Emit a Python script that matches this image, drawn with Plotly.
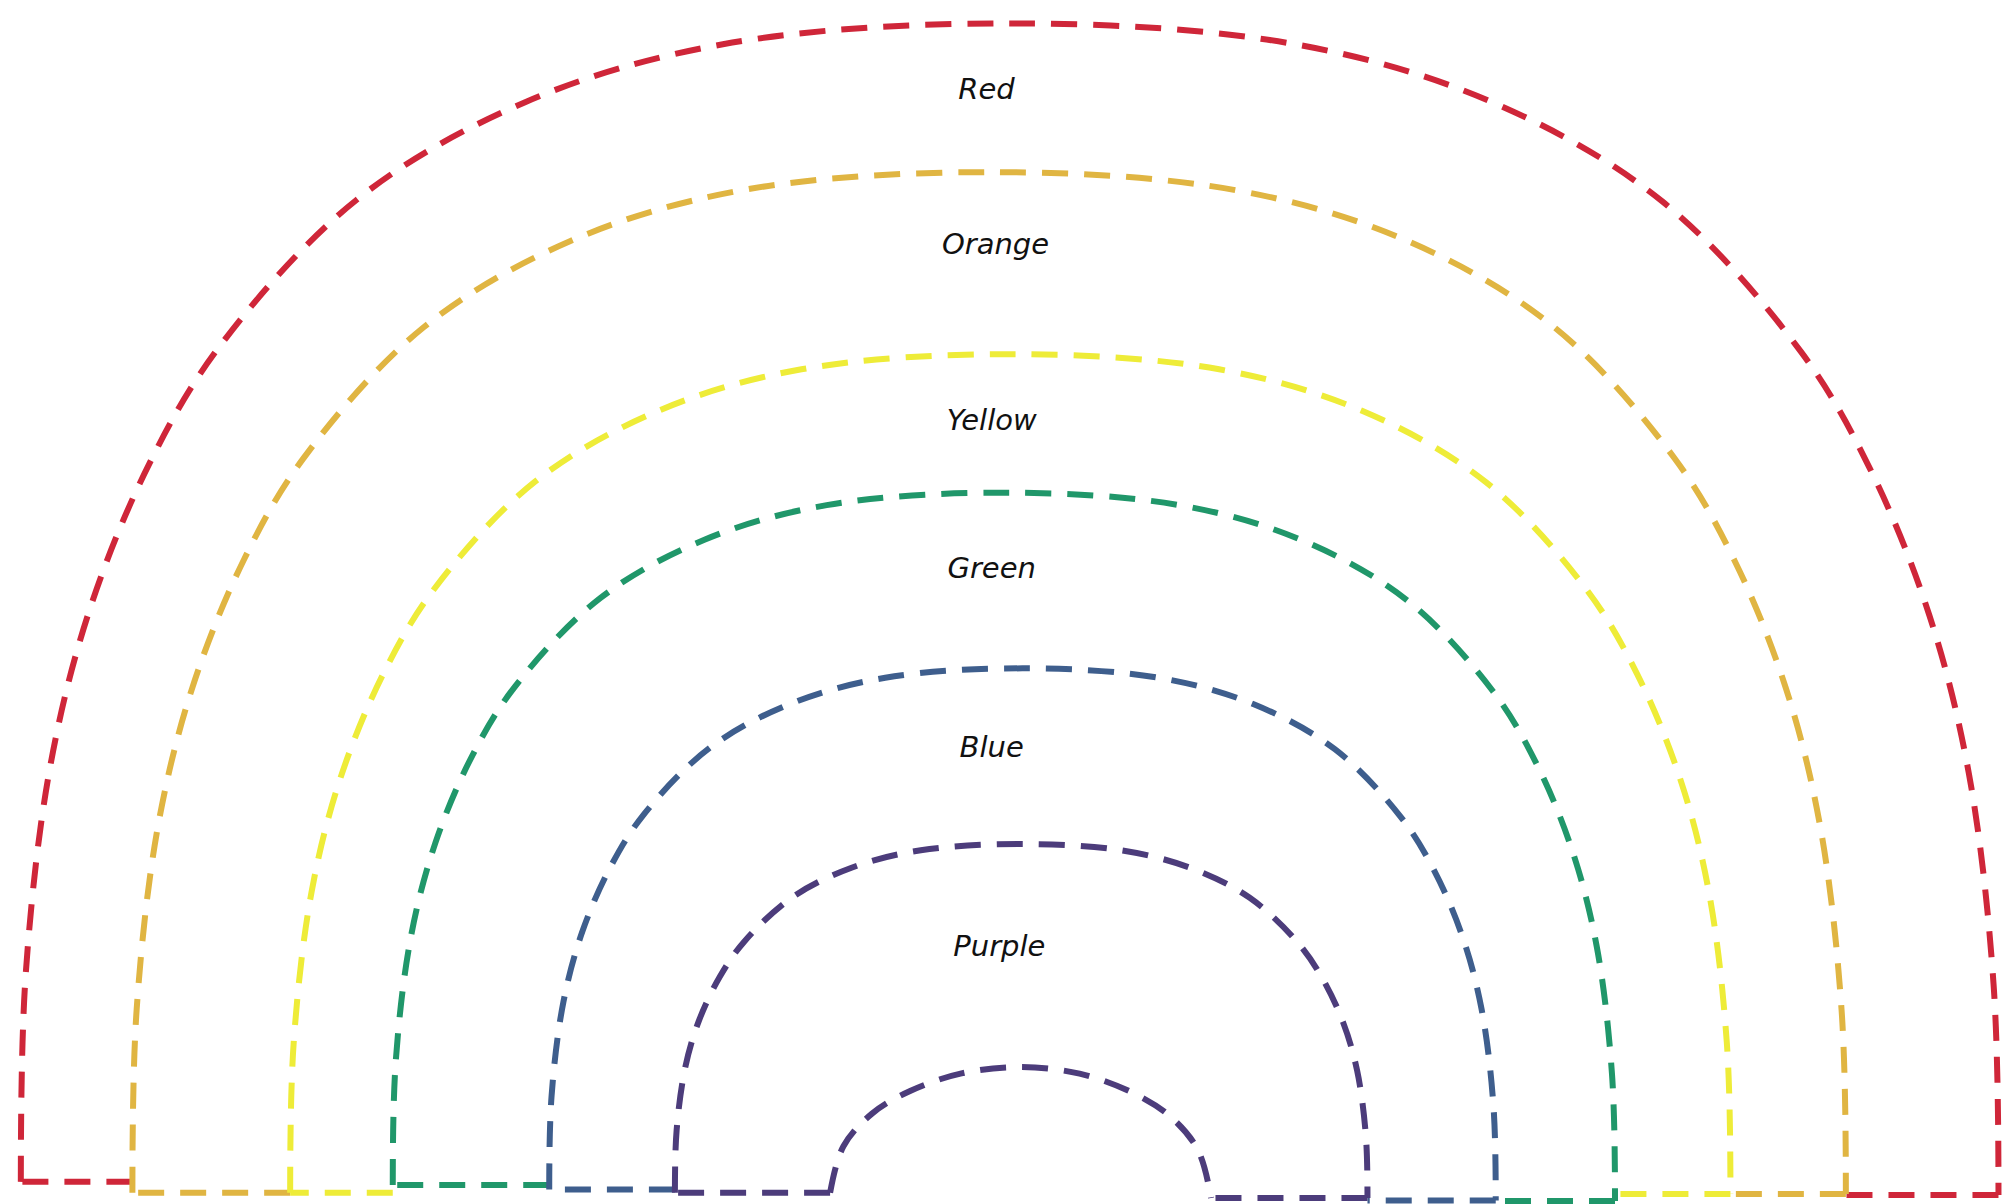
import plotly.graph_objects as go

# ---- data (units; baseline = 0) ----
BANDS = ["Red", "Orange", "Yellow", "Green", "Blue", "Purple"]
COLORS = ["#cf2639", "#e0b542", "#eeec38", "#20976a", "#3e5e8d", "#4c3c7b"]
LEFT = [-77.0, -68.3, -56.0, -48.0, -35.8, -26.0]
RIGHT = [77.2, 65.3, 56.3, 47.3, 38.0, 28.0]
HEIGHT = [91.0, 79.4, 65.2, 54.4, 40.7, 27.0]
LEFT_BASE = [0.65, -0.2, -0.2, 0.4, 0.05, -0.2]
RIGHT_BASE = [-0.37, -0.3, -0.3, -0.85, -0.8, -0.6]

# innermost arc (inner edge of the Purple band)
INNER_LEFT = -13.9
INNER_RIGHT = 15.8
INNER_HEIGHT = 9.6

# arc profiles (fraction of half-width, fraction of height), foot -> top
U_OUT = [1.000, 0.995, 0.970, 0.930, 0.870, 0.800, 0.660, 0.490, 0.290, 0.000]
V_OUT = [0.000, 0.180, 0.360, 0.495, 0.620, 0.720, 0.848, 0.932, 0.982, 1.000]
U_IN = [1.00, 0.93, 0.78, 0.58, 0.31, 0.00]
V_IN = [0.00, 0.37, 0.63, 0.81, 0.95, 1.00]

LABEL_X = [-1.7, -1.0, -1.3, -1.3, -1.3, -0.7]
LABEL_Y = [85.65, 73.55, 59.85, 48.35, 34.35, 18.85]


def arc(left, right, height, bl, br, U, V):
    cx = (left + right) / 2
    rx = (right - left) / 2
    xs = [cx - rx * u for u in U]
    ys = [bl + v * (height - bl) for v in V]
    xs += [cx + rx * u for u in reversed(U[:-1])]
    ys += [br + v * (height - br) for v in reversed(V[:-1])]
    return xs, ys


DASH = "26px,16px"
W = 6
fig = go.Figure()

for i, name in enumerate(BANDS):
    col = COLORS[i]
    if i + 1 < len(BANDS):
        in_l, in_r = LEFT[i + 1], RIGHT[i + 1]
    else:
        in_l, in_r = INNER_LEFT, INNER_RIGHT
    # left baseline segment
    fig.add_trace(go.Scatter(x=[in_l, LEFT[i]], y=[LEFT_BASE[i], LEFT_BASE[i]],
                             mode="lines", line=dict(color=col, width=W, dash=DASH),
                             hoverinfo="skip", showlegend=False))
    # outer arc
    ax, ay = arc(LEFT[i], RIGHT[i], HEIGHT[i], LEFT_BASE[i], RIGHT_BASE[i], U_OUT, V_OUT)
    fig.add_trace(go.Scatter(x=ax, y=ay, mode="lines", name=name,
                             line=dict(color=col, width=W, dash=DASH, shape="spline", smoothing=1.0),
                             showlegend=False))
    # right baseline segment
    fig.add_trace(go.Scatter(x=[RIGHT[i], in_r], y=[RIGHT_BASE[i], RIGHT_BASE[i]],
                             mode="lines", line=dict(color=col, width=W, dash=DASH),
                             hoverinfo="skip", showlegend=False))

# innermost arc belongs to the Purple band
ix, iy = arc(INNER_LEFT, INNER_RIGHT, INNER_HEIGHT, LEFT_BASE[-1], RIGHT_BASE[-1], U_IN, V_IN)
fig.add_trace(go.Scatter(x=ix, y=iy, mode="lines",
                         line=dict(color=COLORS[-1], width=W, dash=DASH, shape="spline", smoothing=1.0),
                         hoverinfo="skip", showlegend=False))

# band labels
fig.add_trace(go.Scatter(x=LABEL_X, y=LABEL_Y, mode="text", text=BANDS,
                         textfont=dict(family="DejaVu Sans", size=29, color="#111111", style="italic"),
                         hoverinfo="skip", showlegend=False))

fig.update_layout(
    width=2011, height=1204,
    margin=dict(l=0, r=0, t=0, b=0),
    paper_bgcolor="white", plot_bgcolor="white",
    xaxis=dict(range=[-78.0, 78.8], visible=False, fixedrange=True),
    yaxis=dict(range=[-1.7, 92.2], visible=False, fixedrange=True),
)

fig.write_html("out.html")
